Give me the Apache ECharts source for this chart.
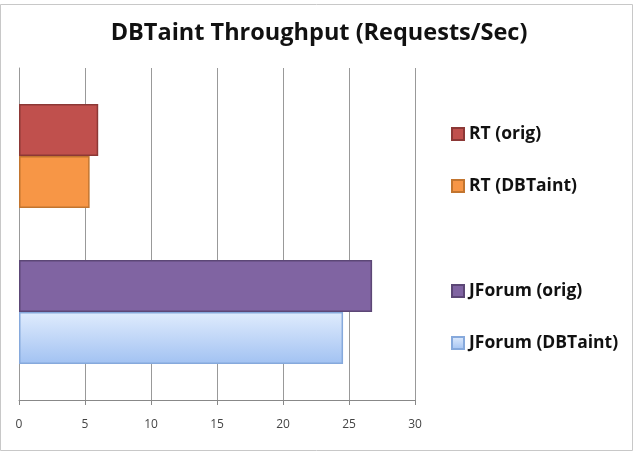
<!DOCTYPE html>
<html>
<head>
<meta charset="utf-8">
<script src="https://cdn.jsdelivr.net/npm/echarts@6/dist/echarts.min.js"></script>
<style>
  html, body { margin: 0; padding: 0; background: #fff; }
  #chart { width: 640px; height: 456px; }
</style>
</head>
<body>
<div id="chart"></div>
<script>
// data
const categories = ['Throughput'];
const seriesNames = ['RT (orig)', 'RT (DBTaint)', '', 'JForum (orig)', 'JForum (DBTaint)'];
const rtOrig = [6.0];
const rtDBTaint = [5.35];
const spacer = ['-'];
const jforumOrig = [26.75];
const jforumDBTaint = [24.55];
const xTicks = [0, 30, 5]; // min, max, interval

const FONT = '"Open Sans", Lato, sans-serif';

const chart = echarts.init(document.getElementById('chart'));

// bar style helper
function barSeries(name, data, color, border) {
  return {
    name: name,
    type: 'bar',
    data: data,
    barGap: '0%',
    barCategoryGap: '21.7%',
    itemStyle: { color: color, borderColor: border, borderWidth: 1.5 }
  };
}

const legendText = { fontFamily: FONT, fontSize: 17.5, fontWeight: 'bold', color: '#111', lineHeight: 18 };

const option = {
  backgroundColor: '#fff',
  animation: false,
  title: {
    text: 'DBTaint Throughput (Requests/Sec)',
    left: 314,
    textAlign: 'center',
    top: 16,
    textStyle: { fontFamily: FONT, fontSize: 23.5, fontWeight: 'bold', color: '#111' }
  },
  legend: [
    {
      orient: 'vertical',
      left: 451,
      top: 125,
      padding: 0,
      itemWidth: 12,
      itemHeight: 12,
      itemGap: 34,
      icon: 'rect',
      data: ['RT (orig)', 'RT (DBTaint)'],
      textStyle: legendText
    },
    {
      orient: 'vertical',
      left: 451,
      top: 282,
      padding: 0,
      itemWidth: 12,
      itemHeight: 12,
      itemGap: 34,
      icon: 'rect',
      data: ['JForum (orig)', 'JForum (DBTaint)'],
      textStyle: legendText
    }
  ],
  grid: { left: 19, right: 225, top: 68, bottom: 56 },
  xAxis: {
    type: 'value',
    min: xTicks[0],
    max: xTicks[1],
    interval: xTicks[2],
    axisLine: { show: true, lineStyle: { color: '#888', width: 1 } },
    axisTick: { show: true, length: 5, lineStyle: { color: '#888' } },
    axisLabel: { margin: 19, fontFamily: FONT, fontSize: 12, color: '#444' },
    splitLine: { show: true, lineStyle: { color: '#999', width: 1 } }
  },
  yAxis: {
    type: 'category',
    inverse: true,
    data: categories,
    axisLine: { show: true, lineStyle: { color: '#999' } },
    axisTick: { show: false },
    axisLabel: { show: false }
  },
  series: [
    barSeries(seriesNames[0], rtOrig, '#c0504d', '#8c3836'),
    barSeries(seriesNames[1], rtDBTaint, '#f79646', '#c2752f'),
    barSeries(seriesNames[2], spacer, 'transparent', 'transparent'),
    barSeries(seriesNames[3], jforumOrig, '#8064a2', '#5c4776'),
    barSeries(seriesNames[4], jforumDBTaint,
      new echarts.graphic.LinearGradient(0, 0, 0, 1, [
        { offset: 0, color: '#e0ecfd' },
        { offset: 1, color: '#a2c2f2' }
      ]), '#86a9dc')
  ],
  graphic: [
    {
      type: 'rect',
      shape: { x: 0.5, y: 4.5, width: 632, height: 446 },
      style: { fill: 'none', stroke: '#c8c8c8', lineWidth: 1 },
      silent: true
    }
  ]
};

chart.setOption(option);
</script>
</body>
</html>
